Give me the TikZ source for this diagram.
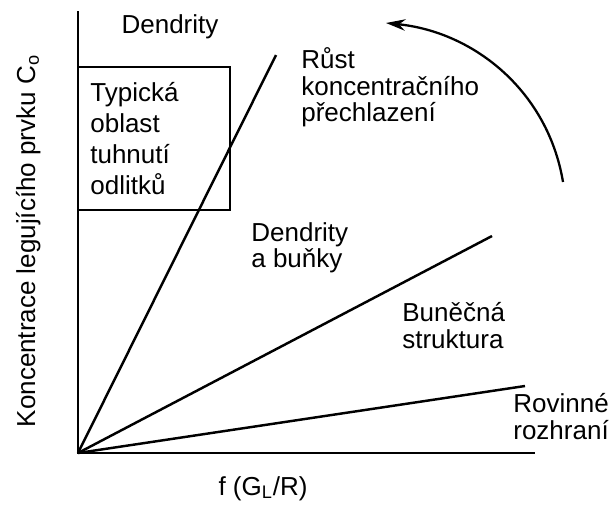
\documentclass[tikz,border=0pt]{standalone}
\usepackage{fontspec}
\setmainfont{Liberation Sans}
\usetikzlibrary{arrows.meta}

\begin{document}
\begin{tikzpicture}[
    x=0.02cm, y=-0.02cm,
    txt/.style={inner sep=0pt, align=left, font=\fontsize{14.8}{15.2}\selectfont},
    axis/.style={draw, line width=1.5pt},
    line/.style={draw, line width=1.4pt},
    turn/.style={draw, line width=1.3pt, -{Stealth[length=11pt, width=6.5pt]}}
]
    \useasboundingbox (0,0) rectangle (611,511);
    \coordinate (origin) at (78,453);
    \coordinate (ytop) at (78,11);
    \coordinate (xend) at (535,453);
    \coordinate (boxnw) at (78,67);
    \coordinate (boxse) at (230,210);
    \coordinate (dendend) at (276,55);
    \coordinate (cellend) at (492,236);
    \coordinate (planend) at (525,386);
    \coordinate (arcstart) at (563,182);
    \coordinate (arcend) at (386,23);

    \node [txt, anchor=base] (dendtop) at (170,33) {Dendrity};
    \node [txt, anchor=north west, font=\fontsize{14.8}{17.6}\selectfont] (castarea) at (90,82) {Typická\\oblast\\tuhnutí\\odlitků};
    \node [txt, anchor=north west] (growth) at (301,47) {Růst\\koncentračního\\přechlazení};
    \node [txt, anchor=north west] (dendcell) at (251,222) {Dendrity\\a buňky};
    \node [txt, anchor=north west] (cellular) at (402,302) {Buněčná\\struktura};
    \node [txt, anchor=north west] (planar) at (513,393) {Rovinné\\rozhraní};
    \node [txt, anchor=base] (xlabel) at (263,495) {f (G\textsubscript{L}/R)};
    \node [txt, anchor=base, rotate=90] (ylabel) at (35,241) {Koncentrace legujícího prvku C\textsubscript{o}};

    \path [axis] (ytop) -- (origin) -- (xend);
    \path [line] (boxnw) rectangle (boxse);
    \path [line] (origin) -- (dendend);
    \path [line] (origin) -- (cellend);
    \path [line] (origin) -- (planend);
    \path [turn] (arcstart) .. controls (548,92) and (475,32) .. (arcend);
\end{tikzpicture}
\end{document}
